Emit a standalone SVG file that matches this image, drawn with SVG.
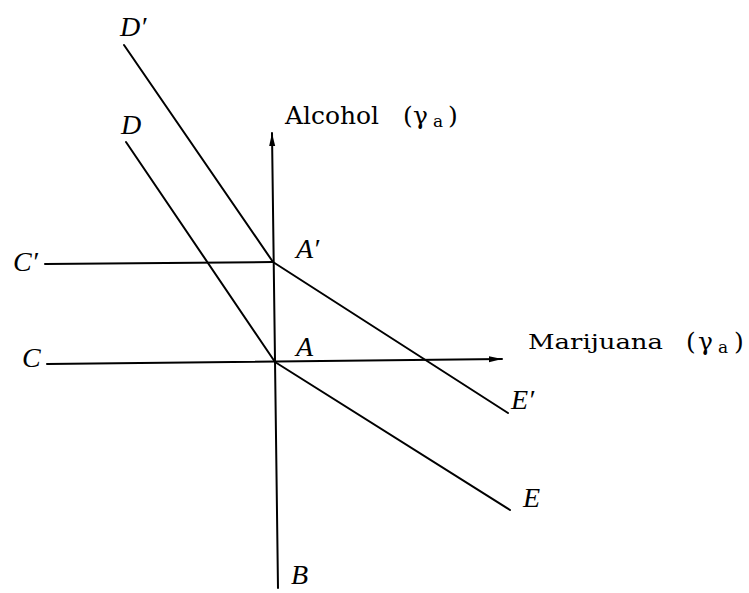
<svg xmlns="http://www.w3.org/2000/svg" width="749" height="593" viewBox="0 0 749 593">
<style>
.ln{stroke:#000;stroke-width:2;fill:none;stroke-linecap:round}
.lab{font-family:"Liberation Serif",serif;font-style:italic;font-size:28px;fill:#000}
.ax{font-family:"DejaVu Serif","Liberation Serif",serif;fill:#000}
.g{font-family:"DejaVu Serif","Liberation Serif",serif;font-size:25px;fill:#000}
.s{font-family:"DejaVu Serif","Liberation Serif",serif;font-size:17px;fill:#000}
</style>
<defs>
<marker id="ah" markerWidth="14" markerHeight="8" refX="13" refY="4" orient="auto" markerUnits="userSpaceOnUse">
<path d="M0,1 L13,4 L0,7 Z" fill="#000"/>
</marker>
</defs>
<rect width="749" height="593" fill="#fff"/>
<g id="connectors">
<line class="ln" x1="278" y1="588" x2="272" y2="133" marker-end="url(#ah)"/>
<line class="ln" x1="47" y1="364" x2="502" y2="359" marker-end="url(#ah)"/>
<line class="ln" x1="45" y1="264" x2="273" y2="262"/>
<line class="ln" x1="124" y1="45" x2="273" y2="262"/>
<line class="ln" x1="126" y1="142" x2="275" y2="362"/>
<line class="ln" x1="273" y1="262" x2="508" y2="413"/>
<line class="ln" x1="275" y1="362" x2="510" y2="510"/>
</g>
<g id="label-Dp"><text class="lab" x="120" y="36">D′</text></g>
<g id="label-D"><text class="lab" x="121" y="134">D</text></g>
<g id="label-Cp"><text class="lab" x="13" y="271">C′</text></g>
<g id="label-C"><text class="lab" x="22" y="367">C</text></g>
<g id="label-Ap"><text class="lab" x="296" y="258">A′</text></g>
<g id="label-A"><text class="lab" x="296" y="356">A</text></g>
<g id="label-Ep"><text class="lab" x="511" y="409">E′</text></g>
<g id="label-E"><text class="lab" x="523" y="507">E</text></g>
<g id="label-B"><text class="lab" x="291" y="584" font-size="26">B</text></g>
<g id="axis-alcohol">
<text class="ax" font-size="24" x="285" y="124" textLength="94" lengthAdjust="spacingAndGlyphs">Alcohol</text>
<text class="ax" font-size="25" x="403" y="124">(</text>
<text class="g" x="413" y="124">γ</text>
<text class="s" x="433" y="127">a</text>
<text class="ax" font-size="25" x="448" y="124">)</text>
</g>
<g id="axis-marijuana">
<text class="ax" font-size="21" x="528" y="349" textLength="135" lengthAdjust="spacingAndGlyphs">Marijuana</text>
<text class="ax" font-size="25" x="686" y="350">(</text>
<text class="g" x="698" y="350">γ</text>
<text class="s" x="718" y="353">a</text>
<text class="ax" font-size="25" x="734" y="350">)</text>
</g>
</svg>
